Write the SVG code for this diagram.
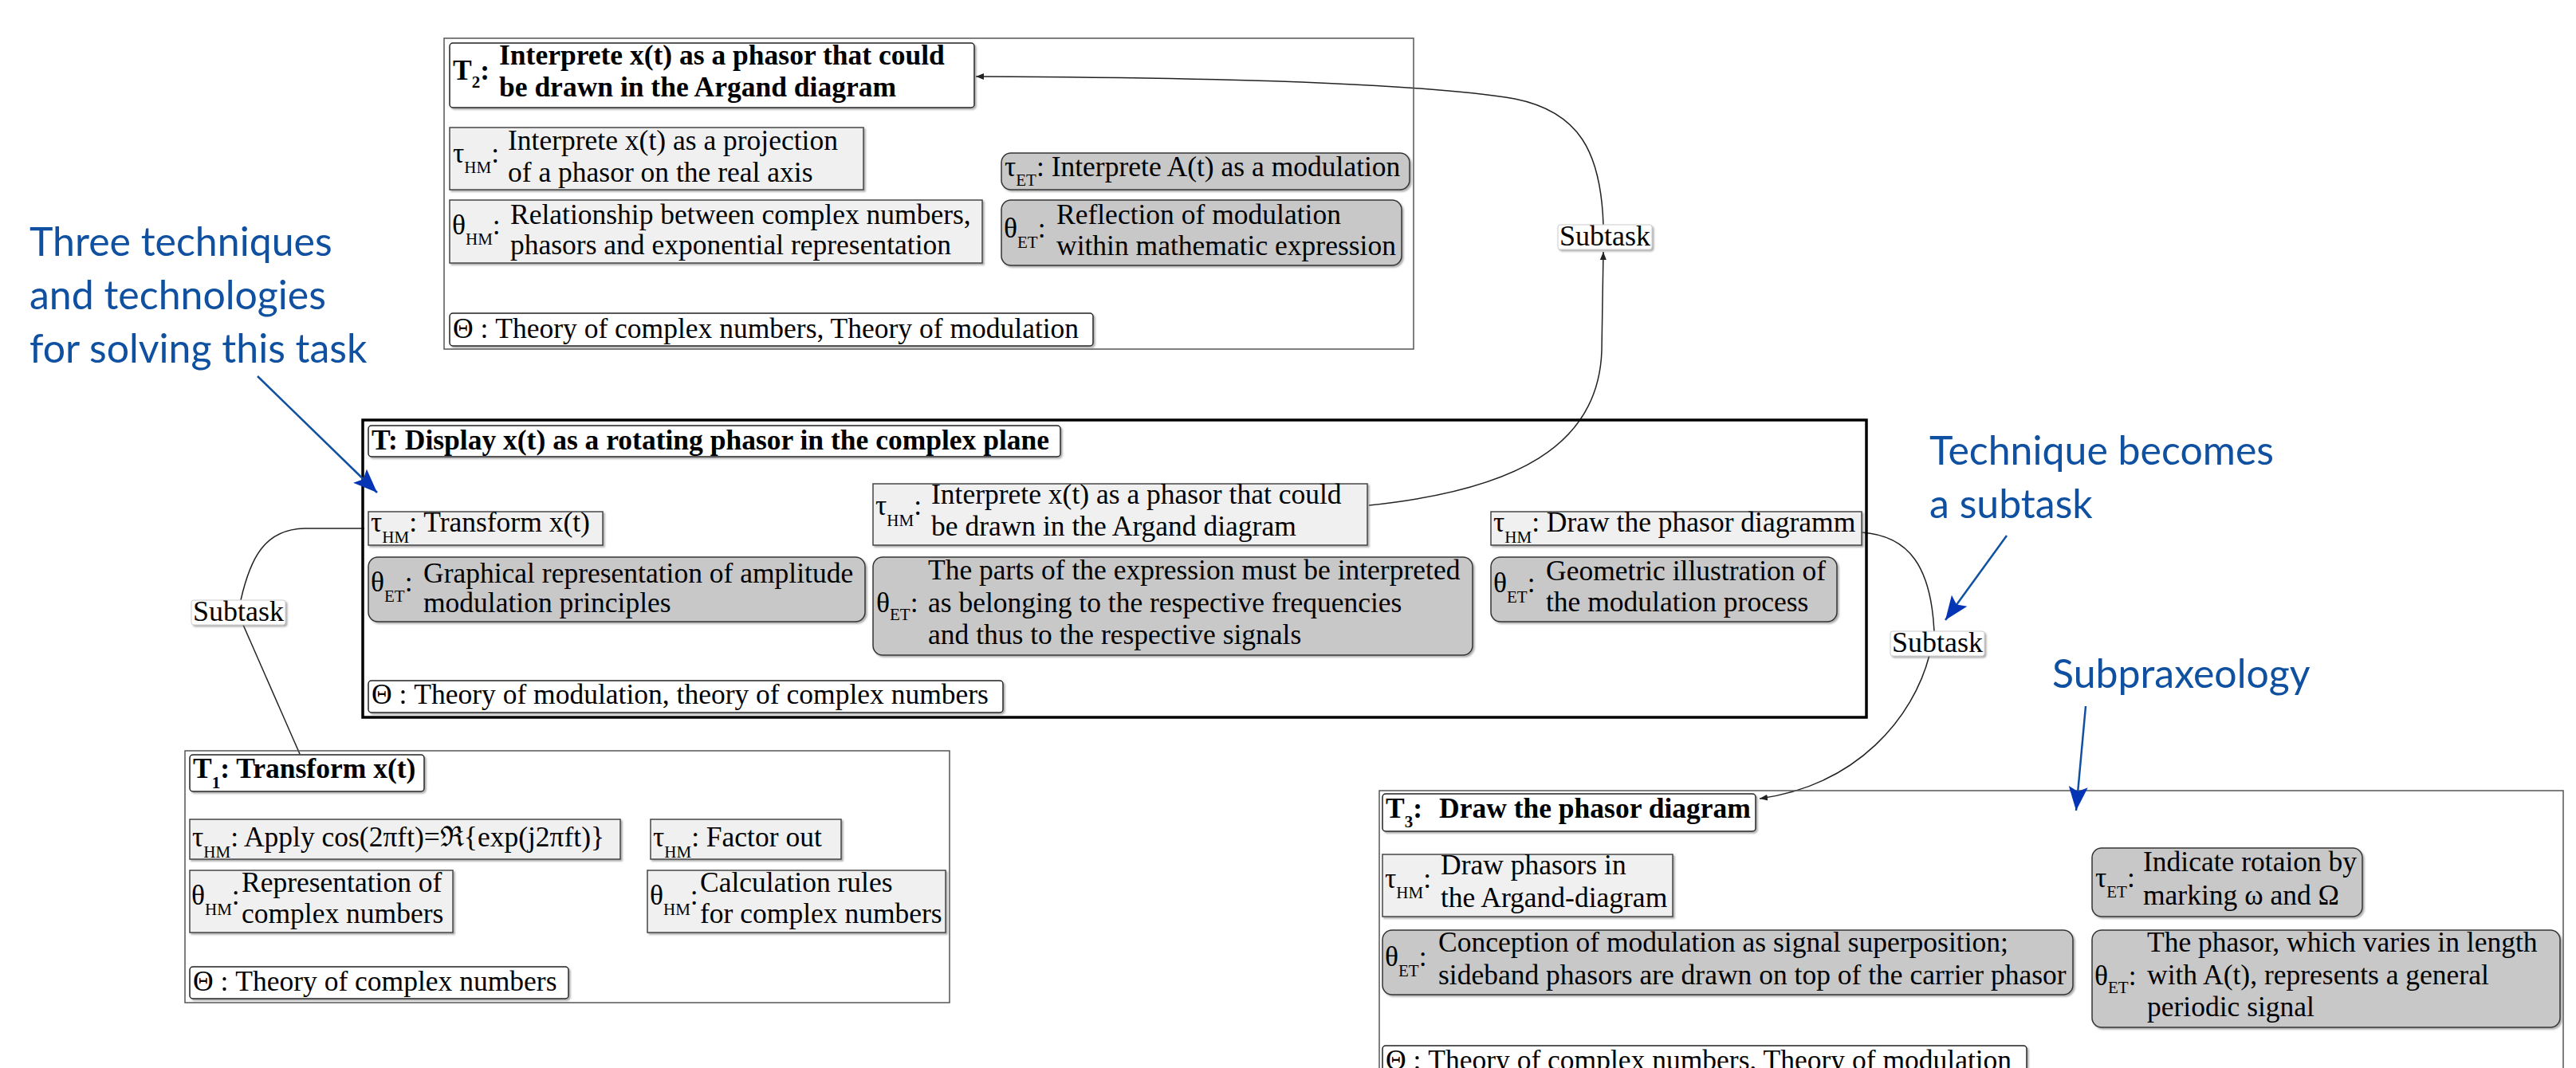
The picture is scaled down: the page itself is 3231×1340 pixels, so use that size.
<svg xmlns="http://www.w3.org/2000/svg" width="3231" height="1340" viewBox="0 0 3231 1340">
<style>
.bg{fill:#fff}
.frame{fill:none;stroke:#555;stroke-width:1.5}
.frameT{fill:none;stroke:#000;stroke-width:3.5}
.ttl{fill:#fff;stroke:#222;stroke-width:1.5}
.lt{fill:#f0f0f0;stroke:#444;stroke-width:1.5}
.dk{fill:#c8c8c8;stroke:#333;stroke-width:1.5}
.th{fill:#fff;stroke:#222;stroke-width:1.5}
.lb{fill:#fff;stroke:#ccc;stroke-width:1}
.t{font-family:"Liberation Serif","Times New Roman",serif;font-size:35.5px;fill:#000}
.b{font-weight:bold}
.s{font-size:21px}
.lbt{font-family:"Liberation Serif","Times New Roman",serif;font-size:36px;fill:#000}
.con{fill:none;stroke:#222;stroke-width:1.5}
.ann{font-family:Lato,"Open Sans",sans-serif;font-size:50px;fill:#0f50a0}
.aline{fill:none;stroke:#1050a0;stroke-width:2.5}
</style>
<defs>
<filter id="ds" x="-5%" y="-10%" width="110%" height="130%">
<feDropShadow dx="2" dy="2" stdDeviation="1" flood-color="#777" flood-opacity="0.6"/>
</filter>
<marker id="ah" markerUnits="userSpaceOnUse" markerWidth="14" markerHeight="12" refX="10" refY="5" orient="auto">
<path d="M0,1 L10,5 L0,9 Z" fill="#222"/>
</marker>
<marker id="bh" markerUnits="userSpaceOnUse" markerWidth="34" markerHeight="26" refX="30" refY="13" orient="auto">
<path d="M0,1 L30,13 L0,25 L6,13 Z" fill="#0535b5"/>
</marker>
</defs>
<rect class="bg" x="0" y="0" width="3231" height="1340"/>

<g id="connectors">
<path class="con" d="M1717,634 C1900,615 2005,560 2009,440 L2011,316" marker-end="url(#ah)"/>
<path class="con" d="M2011,282 C2008,190 1980,140 1900,124 C1780,104 1500,97 1224,96" marker-end="url(#ah)"/>
<path class="con" d="M457,663 L382,663 C332,664 314,700 302,753"/>
<path class="con" d="M305,784 L376,946"/>
<path class="con" d="M2335,668 C2395,672 2422,712 2426,792"/>
<path class="con" d="M2420,822 C2400,900 2330,985 2207,1002" marker-end="url(#ah)"/>
<g id="label-subtask-1">
<rect class="lb" x="240" y="753" width="118" height="31" rx="3" filter="url(#ds)"/>
<text class="lbt" x="242" y="779">Subtask</text>
</g>
<g id="label-subtask-2">
<rect class="lb" x="1954" y="282" width="118" height="31" rx="3" filter="url(#ds)"/>
<text class="lbt" x="1956" y="308">Subtask</text>
</g>
<g id="label-subtask-3">
<rect class="lb" x="2371" y="792" width="118" height="31" rx="3" filter="url(#ds)"/>
<text class="lbt" x="2373" y="818">Subtask</text>
</g>
</g>

<g id="node-T2">
<rect class="frame" x="557" y="48" width="1216" height="390"/>
<g id="T2-title">
<rect class="ttl" x="564" y="54" width="658" height="81" rx="4" filter="url(#ds)"/>
<text class="t b" x="568" y="100">T<tspan class="s" dy="10">2</tspan><tspan dy="-10">:</tspan></text>
<text class="t b" x="626" y="81">Interprete x(t) as a phasor that could</text>
<text class="t b" x="626" y="121">be drawn in the Argand diagram</text>
</g>
<g id="T2-tau-hm">
<rect class="lt" x="564" y="160" width="519" height="78" filter="url(#ds)"/>
<text class="t" x="568" y="204">τ<tspan class="s" dy="13">HM</tspan><tspan dy="-13">:</tspan></text>
<text class="t" x="637" y="188">Interprete x(t) as a projection</text>
<text class="t" x="637" y="228">of a phasor on the real axis</text>
</g>
<g id="T2-theta-hm">
<rect class="lt" x="564" y="251" width="668" height="79" filter="url(#ds)"/>
<text class="t" x="567" y="294">θ<tspan class="s" dy="13">HM</tspan><tspan dy="-13">:</tspan></text>
<text class="t" x="640" y="281">Relationship between complex numbers,</text>
<text class="t" x="640" y="319">phasors and exponential representation</text>
</g>
<g id="T2-tau-et">
<rect class="dk" x="1256" y="192" width="512" height="46" rx="12" filter="url(#ds)"/>
<text class="t" x="1260" y="221">τ<tspan class="s" dy="12">ET</tspan><tspan dy="-12">: Interprete A(t) as a modulation</tspan></text>
</g>
<g id="T2-theta-et">
<rect class="dk" x="1256" y="251" width="502" height="82" rx="12" filter="url(#ds)"/>
<text class="t" x="1259" y="298">θ<tspan class="s" dy="13">ET</tspan><tspan dy="-13">:</tspan></text>
<text class="t" x="1325" y="281">Reflection of modulation</text>
<text class="t" x="1325" y="320">within mathematic expression</text>
</g>
<g id="T2-theory">
<rect class="th" x="564" y="393" width="807" height="41" rx="4" filter="url(#ds)"/>
<text class="t" x="568" y="424">Θ : Theory of complex numbers, Theory of modulation</text>
</g>
</g>

<g id="node-T">
<rect class="frameT" x="455" y="527" width="1886" height="373"/>
<g id="T-title">
<rect class="ttl" x="462" y="534" width="868" height="39" rx="4" filter="url(#ds)"/>
<text class="t b" x="466" y="564">T: Display x(t) as a rotating phasor in the complex plane</text>
</g>
<g id="T-tau-hm-1">
<rect class="lt" x="462" y="642" width="294" height="42" filter="url(#ds)"/>
<text class="t" x="465" y="667">τ<tspan class="s" dy="14">HM</tspan><tspan dy="-14">: Transform x(t)</tspan></text>
</g>
<g id="T-theta-et-1">
<rect class="dk" x="462" y="699" width="623" height="81" rx="12" filter="url(#ds)"/>
<text class="t" x="465" y="742">θ<tspan class="s" dy="13">ET</tspan><tspan dy="-13">:</tspan></text>
<text class="t" x="531" y="731">Graphical representation of amplitude</text>
<text class="t" x="531" y="768">modulation principles</text>
</g>
<g id="T-tau-hm-2">
<rect class="lt" x="1095" y="607" width="620" height="77" filter="url(#ds)"/>
<text class="t" x="1098" y="646">τ<tspan class="s" dy="14">HM</tspan><tspan dy="-14">:</tspan></text>
<text class="t" x="1168" y="632">Interprete x(t) as a phasor that could</text>
<text class="t" x="1168" y="672">be drawn in the Argand diagram</text>
</g>
<g id="T-theta-et-2">
<rect class="dk" x="1095" y="699" width="752" height="123" rx="12" filter="url(#ds)"/>
<text class="t" x="1099" y="768">θ<tspan class="s" dy="10">ET</tspan><tspan dy="-10">:</tspan></text>
<text class="t" x="1164" y="727">The parts of the expression must be interpreted</text>
<text class="t" x="1164" y="768">as belonging to the respective frequencies</text>
<text class="t" x="1164" y="808">and thus to the respective signals</text>
</g>
<g id="T-tau-hm-3">
<rect class="lt" x="1870" y="642" width="465" height="42" filter="url(#ds)"/>
<text class="t" x="1873" y="667">τ<tspan class="s" dy="14">HM</tspan><tspan dy="-14">: Draw the phasor diagramm</tspan></text>
</g>
<g id="T-theta-et-3">
<rect class="dk" x="1870" y="699" width="434" height="81" rx="12" filter="url(#ds)"/>
<text class="t" x="1873" y="743">θ<tspan class="s" dy="13">ET</tspan><tspan dy="-13">:</tspan></text>
<text class="t" x="1939" y="728">Geometric illustration of</text>
<text class="t" x="1939" y="767">the modulation process</text>
</g>
<g id="T-theory">
<rect class="th" x="462" y="854" width="796" height="40" rx="4" filter="url(#ds)"/>
<text class="t" x="466" y="883">Θ : Theory of modulation, theory of complex numbers</text>
</g>
</g>

<g id="node-T1">
<rect class="frame" x="232" y="942" width="959" height="316"/>
<g id="T1-title">
<rect class="ttl" x="238" y="947" width="294" height="46" rx="4" filter="url(#ds)"/>
<text class="t b" x="242" y="976">T<tspan class="s" dy="13">1</tspan><tspan dy="-13">: Transform x(t)</tspan></text>
</g>
<g id="T1-tau-hm-1">
<rect class="lt" x="238" y="1028" width="540" height="50" filter="url(#ds)"/>
<text class="t" x="241" y="1062">τ<tspan class="s" dy="14">HM</tspan><tspan dy="-14">: Apply cos(2πft)=ℜ{exp(j2πft)}</tspan></text>
</g>
<g id="T1-tau-hm-2">
<rect class="lt" x="816" y="1028" width="239" height="50" filter="url(#ds)"/>
<text class="t" x="819" y="1062">τ<tspan class="s" dy="14">HM</tspan><tspan dy="-14">: Factor out</tspan></text>
</g>
<g id="T1-theta-hm-1">
<rect class="lt" x="238" y="1092" width="330" height="78" filter="url(#ds)"/>
<text class="t" x="240" y="1135">θ<tspan class="s" dy="13">HM</tspan><tspan dy="-13">:</tspan></text>
<text class="t" x="303" y="1119">Representation of</text>
<text class="t" x="303" y="1158">complex numbers</text>
</g>
<g id="T1-theta-hm-2">
<rect class="lt" x="812" y="1092" width="374" height="78" filter="url(#ds)"/>
<text class="t" x="815" y="1135">θ<tspan class="s" dy="13">HM</tspan><tspan dy="-13">:</tspan></text>
<text class="t" x="878" y="1119">Calculation rules</text>
<text class="t" x="878" y="1158">for complex numbers</text>
</g>
<g id="T1-theory">
<rect class="th" x="238" y="1213" width="475" height="40" rx="4" filter="url(#ds)"/>
<text class="t" x="242" y="1243">Θ : Theory of complex numbers</text>
</g>
</g>

<g id="node-T3">
<rect class="frame" x="1730" y="992" width="1485" height="360"/>
<g id="T3-title">
<rect class="ttl" x="1734" y="996" width="468" height="47" rx="4" filter="url(#ds)"/>
<text class="t b" x="1738" y="1026">T<tspan class="s" dy="12">3</tspan><tspan dy="-12">:</tspan></text>
<text class="t b" x="1805" y="1026">Draw the phasor diagram</text>
</g>
<g id="T3-tau-hm">
<rect class="lt" x="1734" y="1072" width="364" height="78" filter="url(#ds)"/>
<text class="t" x="1737" y="1114">τ<tspan class="s" dy="13">HM</tspan><tspan dy="-13">:</tspan></text>
<text class="t" x="1807" y="1097">Draw phasors in</text>
<text class="t" x="1807" y="1138">the Argand-diagram</text>
</g>
<g id="T3-tau-et">
<rect class="dk" x="2624" y="1064" width="339" height="86" rx="12" filter="url(#ds)"/>
<text class="t" x="2628" y="1113">τ<tspan class="s" dy="13">ET</tspan><tspan dy="-13">:</tspan></text>
<text class="t" x="2688" y="1093">Indicate rotaion by</text>
<text class="t" x="2688" y="1135">marking ω and Ω</text>
</g>
<g id="T3-theta-et-1">
<rect class="dk" x="1734" y="1167" width="866" height="81" rx="12" filter="url(#ds)"/>
<text class="t" x="1737" y="1212">θ<tspan class="s" dy="13">ET</tspan><tspan dy="-13">:</tspan></text>
<text class="t" x="1804" y="1194">Conception of modulation as signal superposition;</text>
<text class="t" x="1804" y="1235">sideband phasors are drawn on top of the carrier phasor</text>
</g>
<g id="T3-theta-et-2">
<rect class="dk" x="2624" y="1167" width="587" height="122" rx="12" filter="url(#ds)"/>
<text class="t" x="2627" y="1236">θ<tspan class="s" dy="10">ET</tspan><tspan dy="-10">:</tspan></text>
<text class="t" x="2693" y="1194">The phasor, which varies in length</text>
<text class="t" x="2693" y="1235">with A(t), represents a general</text>
<text class="t" x="2693" y="1275">periodic signal</text>
</g>
<g id="T3-theory">
<rect class="th" x="1734" y="1312" width="808" height="44" rx="4" filter="url(#ds)"/>
<text class="t" x="1738" y="1342">Θ : Theory of complex numbers, Theory of modulation</text>
</g>
</g>

<g id="annotations">
<text class="ann" x="37" y="321">Three techniques</text>
<text class="ann" x="37" y="388">and technologies</text>
<text class="ann" x="37" y="455">for solving this task</text>
<path class="aline" d="M323,472 L473,618" marker-end="url(#bh)"/>
<text class="ann" x="2420" y="583">Technique becomes</text>
<text class="ann" x="2420" y="650">a subtask</text>
<path class="aline" d="M2517,672 L2440,778" marker-end="url(#bh)"/>
<text class="ann" x="2574" y="863">Subpraxeology</text>
<path class="aline" d="M2616,886 L2604,1017" marker-end="url(#bh)"/>
</g>
</svg>
